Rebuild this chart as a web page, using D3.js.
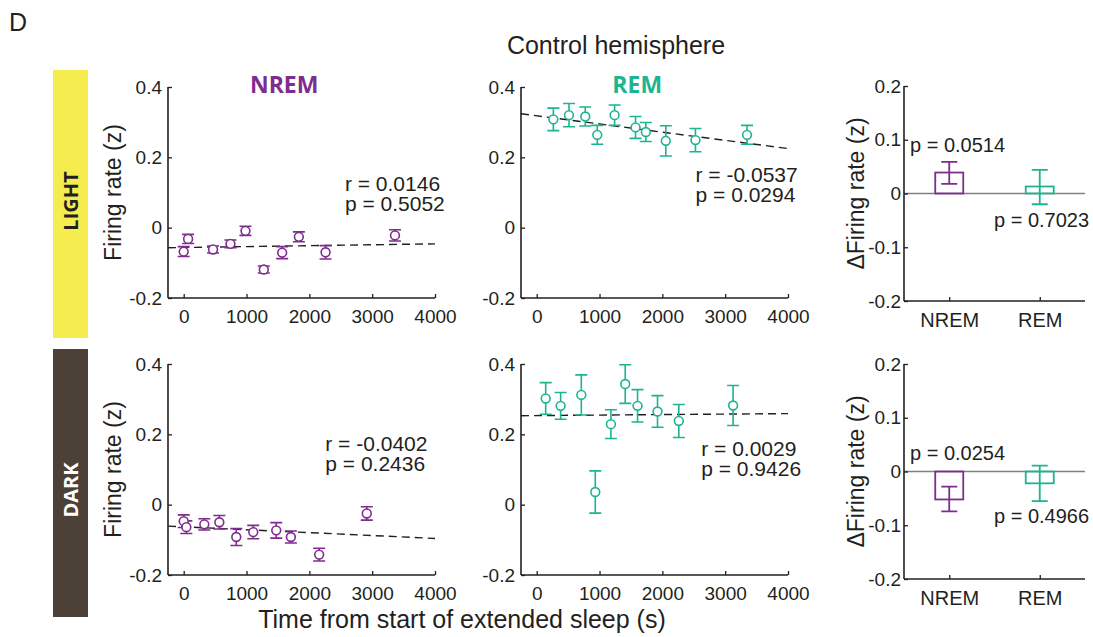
<!DOCTYPE html>
<html>
<head>
<meta charset="utf-8">
<script src="https://cdn.jsdelivr.net/npm/d3@7"></script>
<style>
  body { margin: 0; background: #fff; }
  svg text { font-family: "Liberation Sans", Arial, Helvetica, sans-serif; fill: #231f20; }
</style>
</head>
<body>
<div id="chart"></div>
<script>
// ---- data ----
var timeLightNrem = [0, 70, 467, 744, 983, 1275, 1567, 1833, 2258, 3363];
var rateLightNrem = [-0.068, -0.032, -0.062, -0.046, -0.009, -0.119, -0.071, -0.026, -0.070, -0.022];
var errLightNrem = [0.014, 0.013, 0.010, 0.011, 0.013, 0.010, 0.017, 0.014, 0.019, 0.016];

var timeLightRem = [265, 514, 773, 964, 1240, 1573, 1737, 2055, 2527, 3348];
var rateLightRem = [0.308, 0.320, 0.316, 0.264, 0.320, 0.285, 0.272, 0.247, 0.249, 0.264];
var errLightRem = [0.032, 0.033, 0.027, 0.027, 0.029, 0.031, 0.027, 0.043, 0.033, 0.027];

var timeDarkNrem = [0, 42, 328, 567, 837, 1107, 1473, 1706, 2156, 2914];
var rateDarkNrem = [-0.047, -0.064, -0.056, -0.050, -0.092, -0.078, -0.073, -0.092, -0.142, -0.025];
var errDarkNrem = [0.018, 0.018, 0.016, 0.019, 0.024, 0.019, 0.022, 0.017, 0.018, 0.019];

var timeDarkRem = [143, 381, 710, 932, 1181, 1409, 1605, 1923, 2262, 3126];
var rateDarkRem = [0.302, 0.281, 0.312, 0.036, 0.229, 0.343, 0.281, 0.265, 0.238, 0.282];
var errDarkRem = [0.045, 0.038, 0.057, 0.060, 0.041, 0.055, 0.046, 0.045, 0.047, 0.057];

// regression lines: y at the start and end of the fitted range
var fitX = [-250, 4000];
var fitLightNrem = [-0.057, -0.046];
var fitLightRem = [0.324, 0.225];
var fitDarkNrem = [-0.061, -0.096];
var fitDarkRem = [0.253, 0.259];

var statsLightNrem = ["r = 0.0146", "p = 0.5052"];
var statsLightRem = ["r = -0.0537", "p = 0.0294"];
var statsDarkNrem = ["r = -0.0402", "p = 0.2436"];
var statsDarkRem = ["r = 0.0029", "p = 0.9426"];

var stages = ["NREM", "REM"];
var deltaLight = [0.039, 0.013];
var deltaLightLo = [0.018, -0.020];
var deltaLightHi = [0.059, 0.044];
var deltaDark = [-0.052, -0.022];
var deltaDarkLo = [-0.074, -0.055];
var deltaDarkHi = [-0.028, 0.011];
var pLight = ["p = 0.0514", "p = 0.7023"];
var pDark = ["p = 0.0254", "p = 0.4966"];

var timeTicks = [0, 1000, 2000, 3000, 4000];
var rateTicks = [-0.2, 0, 0.2, 0.4];
var deltaTicks = [-0.2, -0.1, 0, 0.1, 0.2];

var purple = "#7e2d8e", teal = "#1db491";
var axisColor = "#231f20";

var svg = d3.select("#chart").append("svg")
  .attr("width", 1093).attr("height", 637);

// matlab style labels: plain hyphen, "0" without decimals
function fmtTick(d) {
  if (d === 0) return "0";
  return (d < 0 ? "-" : "") + Math.abs(d).toFixed(1);
}

function styleAxis(g, size) {
  g.select(".domain").attr("stroke", axisColor).attr("stroke-width", 1.6);
  g.selectAll(".tick line").attr("stroke", axisColor).attr("stroke-width", 1.3);
  g.selectAll(".tick text").attr("fill", axisColor).style("font-size", size + "px")
    .style("font-family", "'Liberation Sans', Arial, sans-serif");
}

function scatterPanel(opt) {
  var x = d3.scaleLinear().domain([-250, 4000]).range([opt.left, opt.left + 267]);
  var y = d3.scaleLinear().domain([-0.2, 0.4]).range([opt.bottom, opt.bottom - 211]);

  var xa = svg.append("g").attr("transform", "translate(0," + opt.bottom + ")")
    .call(d3.axisBottom(x).tickValues(timeTicks).tickSize(-4).tickPadding(8).tickFormat(d3.format("d")));
  styleAxis(xa, 19);
  xa.select(".domain").attr("d", "M" + opt.left + ",0H" + (opt.left + 267));
  xa.selectAll(".tick text").attr("dy", "0.9em");

  var ya = svg.append("g").attr("transform", "translate(" + opt.left + ",0)")
    .call(d3.axisLeft(y).tickValues(rateTicks).tickSize(-4).tickPadding(6).tickFormat(fmtTick));
  styleAxis(ya, 19);
  ya.select(".domain").attr("d", "M0," + (opt.bottom - 211) + "V" + opt.bottom);

  svg.append("line")
    .attr("x1", x(fitX[0])).attr("x2", x(fitX[1]))
    .attr("y1", y(opt.fit[0])).attr("y2", y(opt.fit[1]))
    .attr("stroke", "#231f20").attr("stroke-width", 1.4)
    .attr("stroke-dasharray", "8,5");

  var pts = opt.t.map(function(t, i) { return { t: t, v: opt.v[i], e: opt.e[i] }; });
  var g = svg.append("g").attr("stroke", opt.color).attr("fill", "none").attr("stroke-width", 1.6);
  g.selectAll(".eb").data(pts).enter().append("path")
    .attr("d", function(d) {
      var cx = x(d.t), y0 = y(d.v - d.e), y1 = y(d.v + d.e);
      return "M" + cx + "," + y0 + "V" + y1 +
        "M" + (cx - 6) + "," + y0 + "H" + (cx + 6) +
        "M" + (cx - 6) + "," + y1 + "H" + (cx + 6);
    });
  g.selectAll("circle").data(pts).enter().append("circle")
    .attr("cx", function(d) { return x(d.t); })
    .attr("cy", function(d) { return y(d.v); })
    .attr("r", 4.4).attr("fill", "#fff");

  svg.append("text").style("font-size", "21px")
    .attr("x", x(opt.statsAt[0])).attr("y", y(opt.statsAt[1])).text(opt.stats[0]);
  svg.append("text").style("font-size", "21px")
    .attr("x", x(opt.statsAt[0])).attr("y", y(opt.statsAt[1]) + 20).text(opt.stats[1]);

  if (opt.ylabel) {
    svg.append("text")
      .attr("transform", "translate(" + (opt.left - 47) + "," + y(0.1) + ") rotate(-90)")
      .attr("text-anchor", "middle").style("font-size", "23px")
      .text("Firing rate (z)");
  }

  if (opt.title) {
    svg.append("text").attr("x", x(1600)).attr("y", opt.bottom - 205)
      .attr("text-anchor", "middle")
      .style("font-family", "'Open Sans', sans-serif").style("font-weight", "bold")
      .style("font-size", "23px").style("fill", opt.color)
      .text(opt.title);
  }
}

function barPanel(opt) {
  var x = d3.scalePoint().domain(stages).range([904, 1085]).padding(0.5);
  var y = d3.scaleLinear().domain([-0.2, 0.2]).range([opt.bottom, opt.bottom - 215]);
  var colors = [purple, teal];

  svg.append("line").attr("x1", 904).attr("x2", 1085)
    .attr("y1", y(0)).attr("y2", y(0))
    .attr("stroke", "#808080").attr("stroke-width", 1.3);

  var xa = svg.append("g").attr("transform", "translate(0," + opt.bottom + ")")
    .call(d3.axisBottom(x).tickSize(-4).tickPadding(8));
  styleAxis(xa, 20);
  xa.select(".domain").attr("d", "M904,0H1085");
  xa.selectAll(".tick text").attr("dy", "0.9em");

  var ya = svg.append("g").attr("transform", "translate(904,0)")
    .call(d3.axisLeft(y).tickValues(deltaTicks).tickSize(-4).tickPadding(3).tickFormat(fmtTick));
  styleAxis(ya, 19);
  ya.select(".domain").attr("d", "M0," + (opt.bottom - 215) + "V" + opt.bottom);

  var bw = 28;
  stages.forEach(function(s, i) {
    var cx = x(s), v = opt.v[i];
    svg.append("rect")
      .attr("x", cx - bw / 2).attr("width", bw)
      .attr("y", Math.min(y(v), y(0))).attr("height", Math.abs(y(v) - y(0)))
      .attr("fill", "none").attr("stroke", colors[i]).attr("stroke-width", 1.8);
    var y0 = y(opt.lo[i]), y1 = y(opt.hi[i]);
    svg.append("path")
      .attr("d", "M" + cx + "," + y0 + "V" + y1 +
        "M" + (cx - 8) + "," + y0 + "H" + (cx + 8) +
        "M" + (cx - 8) + "," + y1 + "H" + (cx + 8))
      .attr("stroke", colors[i]).attr("stroke-width", 1.8).attr("fill", "none");
  });

  svg.append("text").attr("x", 910).attr("y", y(opt.pAt[0])).style("font-size", "20px").text(opt.p[0]);
  svg.append("text").attr("x", 994).attr("y", y(opt.pAt[1])).style("font-size", "20px").text(opt.p[1]);

  svg.append("text")
    .attr("transform", "translate(" + 864 + "," + y(0) + ") rotate(-90)")
    .attr("text-anchor", "middle").style("font-size", "23px")
    .text("\u0394Firing rate (z)");
}

// LIGHT / DARK bands
svg.append("rect").attr("x", 53).attr("y", 70).attr("width", 35).attr("height", 268).attr("fill", "#f5ec4f");
svg.append("rect").attr("x", 53).attr("y", 349).attr("width", 35).attr("height", 268).attr("fill", "#4b4139");
svg.append("text").attr("transform", "translate(78,201) rotate(-90)").attr("text-anchor", "middle")
  .style("font-family", "'Open Sans', sans-serif").style("font-weight", "bold").style("font-size", "20px")
  .style("fill", "#231f20").text("LIGHT");
svg.append("text").attr("transform", "translate(78,490) rotate(-90)").attr("text-anchor", "middle")
  .style("font-family", "'Open Sans', sans-serif").style("font-weight", "bold").style("font-size", "20px")
  .style("fill", "#ffffff").text("DARK");

svg.append("text").attr("x", 9).attr("y", 31).style("font-size", "25px").text("D");
svg.append("text").attr("x", 616).attr("y", 54).attr("text-anchor", "middle").style("font-size", "25px")
  .text("Control hemisphere");
svg.append("text").attr("x", 462).attr("y", 628).attr("text-anchor", "middle").style("font-size", "25px")
  .text("Time from start of extended sleep (s)");

scatterPanel({ left: 168, bottom: 298, t: timeLightNrem, v: rateLightNrem, e: errLightNrem,
  fit: fitLightNrem, color: purple, stats: statsLightNrem, statsAt: [2566, 0.103], title: "NREM", ylabel: true });
scatterPanel({ left: 521, bottom: 298, t: timeLightRem, v: rateLightRem, e: errLightRem,
  fit: fitLightRem, color: teal, stats: statsLightRem, statsAt: [2528, 0.131], title: "REM" });
scatterPanel({ left: 168, bottom: 575, t: timeDarkNrem, v: rateDarkNrem, e: errDarkNrem,
  fit: fitDarkNrem, color: purple, stats: statsDarkNrem, statsAt: [2254, 0.154], ylabel: true });
scatterPanel({ left: 521, bottom: 575, t: timeDarkRem, v: rateDarkRem, e: errDarkRem,
  fit: fitDarkRem, color: teal, stats: statsDarkRem, statsAt: [2619, 0.137] });

barPanel({ bottom: 301, v: deltaLight, lo: deltaLightLo, hi: deltaLightHi, p: pLight, pAt: [0.077, -0.063] });
barPanel({ bottom: 579, v: deltaDark, lo: deltaDarkLo, hi: deltaDarkHi, p: pDark, pAt: [0.022, -0.095] });
</script>
</body>
</html>
